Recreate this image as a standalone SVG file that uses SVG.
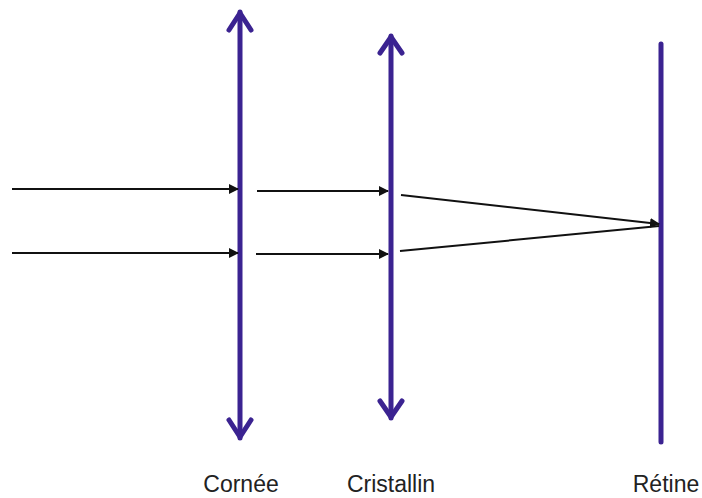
<svg xmlns="http://www.w3.org/2000/svg" width="702" height="498" viewBox="0 0 702 498">
<style>
.lens{stroke:#3b2391;stroke-width:5;fill:none;stroke-linecap:round;stroke-linejoin:round}
.ray{stroke:#111;stroke-width:2;fill:none}
.lbl{font-family:"Liberation Sans",Arial,sans-serif;font-size:23px;fill:#222;text-anchor:middle}
</style>
<defs>
<marker id="ah" viewBox="0 0 10 10" refX="9" refY="5" markerWidth="5" markerHeight="5" orient="auto" markerUnits="strokeWidth">
<path d="M0,0 L10,5 L0,10 z" fill="#111"/>
</marker>
</defs>
<rect width="702" height="498" fill="#fff"/>
<g id="cornee">
<line class="lens" x1="240" y1="12" x2="240" y2="438"/>
<polyline class="lens" points="229,30 240,13 251,30"/>
<polyline class="lens" points="229,420 240,437 251,420"/>
<text class="lbl" x="241" y="492">Cornée</text>
</g>
<g id="cristallin">
<line class="lens" x1="391" y1="36" x2="391" y2="418"/>
<polyline class="lens" points="380,53 391,37 402,53"/>
<polyline class="lens" points="380,401 391,417 402,401"/>
<text class="lbl" x="391" y="492">Cristallin</text>
</g>
<g id="retine">
<line class="lens" x1="661" y1="44" x2="661" y2="442" stroke-linecap="butt"/>
<text class="lbl" x="666" y="492">Rétine</text>
</g>
<g id="connectors">
<line class="ray" x1="12" y1="189" x2="238" y2="189" marker-end="url(#ah)"/>
<line class="ray" x1="12" y1="253" x2="238" y2="253" marker-end="url(#ah)"/>
<line class="ray" x1="257" y1="191" x2="388" y2="191" marker-end="url(#ah)"/>
<line class="ray" x1="256" y1="254" x2="388" y2="254" marker-end="url(#ah)"/>
<line class="ray" x1="401" y1="195" x2="659" y2="224" marker-end="url(#ah)"/>
<line class="ray" x1="400" y1="251" x2="659" y2="226"/>
</g>
</svg>
